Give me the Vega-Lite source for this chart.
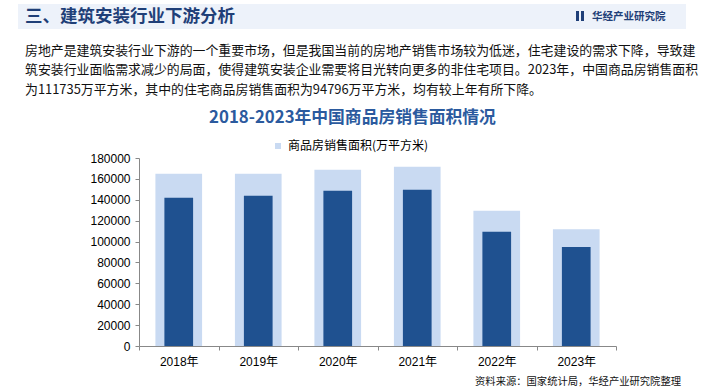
{
  "$schema": "https://vega.github.io/schema/vega-lite/v6.json",
  "width": 477,
  "height": 188,
  "autosize": {"type": "none"},
  "padding": {"left": 139, "top": 158, "right": 89, "bottom": 45},
  "background": "white",
  "config": {"view": {"stroke": null}, "font": "Noto Sans CJK SC"},
  "layer": [
    {
      "data": {"values": [{}]},
      "mark": {"type": "rect", "color": "#edf2fa"},
      "encoding": {"x": {"value": -121}, "x2": {"value": 547}, "y": {"value": -154}, "y2": {"value": -129}}
    },
    {
      "data": {"values": [{}]},
      "mark": {"type": "rect", "color": "#1f3f78"},
      "encoding": {"x": {"value": 437}, "x2": {"value": 440}, "y": {"value": -147}, "y2": {"value": -137}}
    },
    {
      "data": {"values": [{}]},
      "mark": {"type": "rect", "color": "#1f3f78"},
      "encoding": {"x": {"value": 442}, "x2": {"value": 445}, "y": {"value": -147}, "y2": {"value": -137}}
    },
    {
      "data": {"values": [{"t": "三、建筑安装行业下游分析"}]},
      "mark": {"type": "text", "align": "left", "baseline": "middle", "fontSize": 17.5, "fontWeight": "bold", "color": "#1f3f78", "font": "Noto Sans CJK SC"},
      "encoding": {"text": {"field": "t"}, "x": {"value": -114}, "y": {"value": -141}}
    },
    {
      "data": {"values": [{"t": "华经产业研究院"}]},
      "mark": {"type": "text", "align": "left", "baseline": "middle", "fontSize": 10.5, "fontWeight": "bold", "letterSpacing": 2.2, "color": "#1f3f78", "font": "Noto Sans CJK SC"},
      "encoding": {"text": {"field": "t"}, "x": {"value": 453}, "y": {"value": -141}}
    },
    {
      "data": {"values": [{}]},
      "mark": {
        "type": "text",
        "align": "left",
        "baseline": "top",
        "fontSize": 12.9,
        "lineHeight": 19.8,
        "color": "#111111",
        "font": "Noto Sans CJK SC",
        "text": [
          "房地产是建筑安装行业下游的一个重要市场，但是我国当前的房地产销售市场较为低迷，住宅建设的需求下降，导致建",
          "筑安装行业面临需求减少的局面，使得建筑安装企业需要将目光转向更多的非住宅项目。2023年，中国商品房销售面积",
          "为111735万平方米，其中的住宅商品房销售面积为94796万平方米，均有较上年有所下降。"
        ]
      },
      "encoding": {"x": {"value": -114}, "y": {"value": -113.5}}
    },
    {
      "data": {"values": [{"t": "2018-2023年中国商品房销售面积情况"}]},
      "mark": {"type": "text", "align": "center", "baseline": "middle", "fontSize": 16.8, "fontWeight": "bold", "color": "#2b5a9e", "font": "Noto Sans CJK SC"},
      "encoding": {"text": {"field": "t"}, "x": {"value": 213.5}, "y": {"value": -40}}
    },
    {
      "data": {"values": [{"t": "资料来源：国家统计局，华经产业研究院整理"}]},
      "mark": {"type": "text", "align": "right", "baseline": "middle", "fontSize": 10.3, "color": "#111111", "font": "Noto Sans CJK SC"},
      "encoding": {"text": {"field": "t"}, "x": {"value": 542}, "y": {"value": 224}}
    },
    {
      "data": {
        "values": [
          {"year": "2018年", "total": 165000, "residential": 142000},
          {"year": "2019年", "total": 165000, "residential": 143900},
          {"year": "2020年", "total": 168800, "residential": 148700},
          {"year": "2021年", "total": 171700, "residential": 149600},
          {"year": "2022年", "total": 129500, "residential": 109300},
          {"year": "2023年", "total": 111735, "residential": 94796}
        ]
      },
      "layer": [
        {
          "mark": {"type": "bar", "width": {"band": 0.587}},
          "encoding": {
            "x": {
              "field": "year",
              "type": "nominal",
              "sort": null,
              "scale": {"paddingInner": 0, "paddingOuter": 0},
              "axis": {
                "title": null,
                "labelAngle": 0,
                "labelFont": "Liberation Sans, Noto Sans CJK SC",
                "labelFontSize": 12,
                "labelColor": "#000000",
                "labelPadding": 6,
                "tickBand": "extent",
                "tickSize": 4,
                "tickColor": "#888888",
                "domainColor": "#888888",
                "grid": false
              }
            },
            "y": {
              "field": "total",
              "type": "quantitative",
              "scale": {"domain": [0, 180000]},
              "axis": {
                "title": null,
                "values": [0, 20000, 40000, 60000, 80000, 100000, 120000, 140000, 160000, 180000],
                "tickCount": 20,
                "format": "d",
                "labelOverlap": false,
                "labelFlush": false,
                "labelFont": "Liberation Sans",
                "labelFontSize": 12,
                "labelColor": "#000000",
                "labelPadding": 5,
                "tickSize": 4,
                "tickColor": "#888888",
                "domainColor": "#888888",
                "grid": false
              }
            },
            "color": {
              "datum": "商品房销售面积(万平方米)",
              "scale": {"range": ["#c9daf2"]},
              "legend": {
                "orient": "none",
                "legendX": 133,
                "legendY": -18,
                "title": null,
                "symbolType": "square",
                "symbolSize": 36,
                "symbolStrokeWidth": 0,
                "labelFont": "Noto Sans CJK SC",
                "labelFontSize": 12,
                "labelColor": "#000000",
                "labelOffset": 4,
                "padding": 0
              }
            }
          }
        },
        {
          "mark": {"type": "bar", "width": {"band": 0.361}, "color": "#1f5190"},
          "encoding": {
            "x": {"field": "year", "type": "nominal", "sort": null},
            "y": {
              "field": "residential",
              "type": "quantitative",
              "axis": {
                "title": null,
                "values": [0, 20000, 40000, 60000, 80000, 100000, 120000, 140000, 160000, 180000],
                "tickCount": 20,
                "format": "d",
                "labelOverlap": false,
                "labelFlush": false,
                "labelFont": "Liberation Sans",
                "labelFontSize": 12,
                "labelColor": "#000000",
                "labelPadding": 5,
                "tickSize": 4,
                "tickColor": "#888888",
                "domainColor": "#888888",
                "grid": false
              }
            }
          }
        }
      ]
    }
  ]
}
